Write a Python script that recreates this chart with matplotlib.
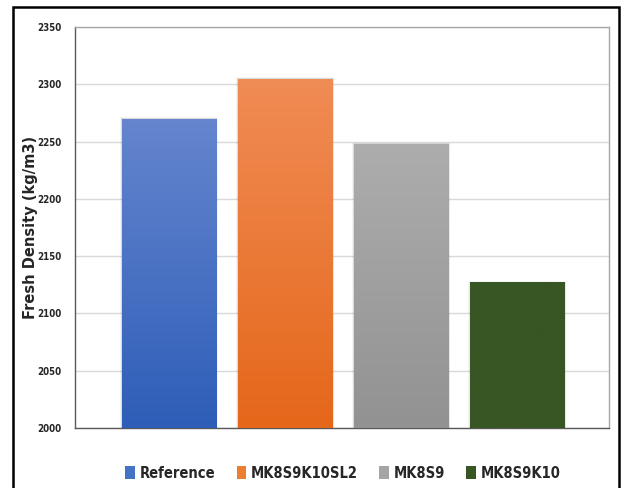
import numpy as np
import matplotlib
matplotlib.use("Agg")
import matplotlib.pyplot as plt
from matplotlib.patches import Rectangle, Patch
from matplotlib.colors import LinearSegmentedColormap

# Fresh density of each mix
categories = ["Reference", "MK8S9K10SL2", "MK8S9", "MK8S9K10"]
density = [2270, 2305, 2248, 2127]
yticks = [2000, 2050, 2100, 2150, 2200, 2250, 2300, 2350]

# top / bottom colours of each bar's vertical gradient
top_colors = ["#6585CE", "#F08C55", "#ADADAD", "#375623"]
bottom_colors = ["#2E5EB8", "#E5671A", "#929292", "#375623"]
legend_colors = ["#4472C4", "#ED7D31", "#A5A5A5", "#375623"]

fig = plt.figure(figsize=(6.26, 4.88), dpi=100)
ax = fig.add_axes([75 / 626, 1 - 428 / 488, (609 - 75) / 626, (428 - 27) / 488])

x = np.arange(len(categories))
width = 0.81
bars = ax.bar(x, density, width=width, color=legend_colors, zorder=3, linewidth=0)

# soft shadow behind each bar
for xi, h in zip(x, density):
    for k, a in enumerate([0.06, 0.05, 0.04]):
        pad = 0.006 * (k + 1)
        ax.add_patch(Rectangle((xi - width / 2 - pad, 2000), width + 2 * pad,
                               h - 2000 + pad * 60, color="#000000", alpha=a,
                               lw=0, zorder=2))

# vertical gradient clipped to each bar
for b, c0, c1 in zip(bars, top_colors, bottom_colors):
    cmap = LinearSegmentedColormap.from_list("g", [c1, c0])
    grad = np.linspace(0, 1, 256).reshape(-1, 1)
    x0 = b.get_x()
    im = ax.imshow(grad, cmap=cmap, aspect="auto", origin="lower",
                   extent=(x0, x0 + b.get_width(), 2000, b.get_height()),
                   zorder=4)
    im.set_clip_path(b)

ax.set_xlim(-0.81, 3.79)
ax.set_ylim(2000, 2350)
ax.set_yticks(yticks)
ax.set_yticklabels([str(t) for t in yticks], fontweight="bold",
                   fontstretch="condensed", fontsize=7, color="#262626")
ax.set_xticks([])
ax.tick_params(axis="y", length=0, pad=10)
ax.grid(axis="y", color="#D9D9D9", linewidth=1, zorder=0)
ax.set_axisbelow(True)

for side in ["top", "right"]:
    ax.spines[side].set_color("#A6A6A6")
    ax.spines[side].set_linewidth(1.0)
for side in ["left", "bottom"]:
    ax.spines[side].set_color("#595959")
    ax.spines[side].set_linewidth(1.0)

ax.set_ylabel("Fresh Density (kg/m3)", fontsize=10.5, fontweight="bold",
              color="#262626")
ax.yaxis.label.set_horizontalalignment("center")
ax.yaxis.label.set_verticalalignment("center")
ax.yaxis.set_label_coords((31 - 75) / 534, 0.5)

handles = [Patch(facecolor=c, edgecolor="none") for c in legend_colors]
fig.legend(handles, categories, loc="center", bbox_to_anchor=(343 / 626, 1 - 473 / 488),
           ncol=4, frameon=False, handlelength=0.65, handleheight=1.0,
           handletextpad=0.35, columnspacing=1.45,
           prop={"size": 10.5, "weight": "bold", "stretch": "condensed"},
           labelcolor="#262626")

# outer frame around the chart
fig.add_artist(Rectangle((12.5 / 626, -0.05), (619 - 12.5) / 626, 1.05 - 7.5 / 488,
                         transform=fig.transFigure, fill=False, edgecolor="black",
                         linewidth=1.8, clip_on=False))

fig.savefig("out.png", dpi=100)
